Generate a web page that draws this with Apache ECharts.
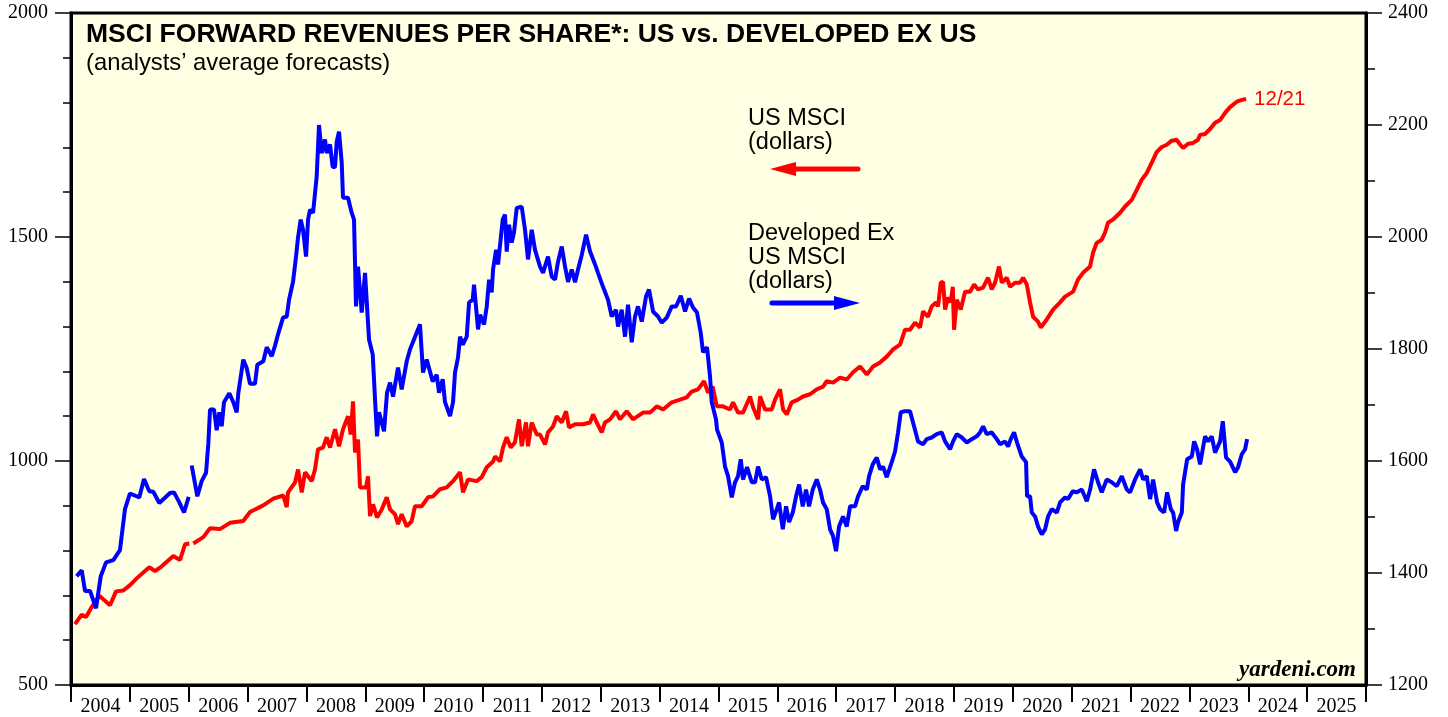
<!DOCTYPE html>
<html>
<head>
<meta charset="utf-8">
<title>MSCI Forward Revenues per Share</title>
<script src="https://cdn.jsdelivr.net/npm/echarts/dist/echarts.min.js"></script>
<style>
  html, body { margin: 0; padding: 0; background: #fff; }
  #chart { width: 1448px; height: 717px; }
</style>
</head>
<body>
<div id="chart"></div>
<script>
// year labels on the bottom axis
const years = ['2004', '2005', '2006', '2007', '2008', '2009', '2010', '2011', '2012', '2013', '2014',
  '2015', '2016', '2017', '2018', '2019', '2020', '2021', '2022', '2023', '2024', '2025'];

// US MSCI forward revenues per share, dollars (left axis) -- [decimal year, value]
const usRevenue = [
  [2004.068, 636], [2004.182, 657], [2004.255, 652], [2004.352, 674], [2004.481, 699], [2004.663, 678],
  [2004.765, 709], [2004.889, 711], [2005.002, 723], [2005.116, 738], [2005.330, 763], [2005.427, 754],
  [2005.541, 765], [2005.738, 788], [2005.852, 779], [2005.937, 814], [2006.010, 816], [2006.030, null],
  [2006.078, 816], [2006.107, 812], [2006.248, 830], [2006.362, 850], [2006.531, 848], [2006.701, 862],
  [2006.927, 866], [2007.041, 886], [2007.267, 901], [2007.437, 916], [2007.607, 923], [2007.665, 897],
  [2007.687, 930], [2007.806, 952], [2007.857, 981], [2007.920, 930], [2007.976, 975], [2008.089, 955],
  [2008.145, 981], [2008.196, 1026], [2008.281, 1030], [2008.344, 1053], [2008.400, 1030], [2008.485, 1071],
  [2008.553, 1033], [2008.621, 1071], [2008.706, 1100], [2008.752, 1059], [2008.791, 1133], [2008.825, 1019],
  [2008.876, 1048], [2008.910, 941], [2009.012, 941], [2009.046, 966], [2009.080, 877], [2009.131, 903],
  [2009.199, 874], [2009.279, 892], [2009.364, 919], [2009.420, 892], [2009.505, 881], [2009.556, 859],
  [2009.618, 881], [2009.703, 854], [2009.788, 866], [2009.844, 899], [2009.958, 899], [2010.065, 919],
  [2010.150, 921], [2010.269, 937], [2010.383, 941], [2010.490, 955], [2010.609, 975], [2010.660, 930],
  [2010.745, 959], [2010.893, 955], [2010.978, 964], [2011.063, 986], [2011.170, 999], [2011.204, 1010],
  [2011.289, 999], [2011.339, 1030], [2011.402, 1053], [2011.470, 1030], [2011.543, 1042], [2011.611, 1093],
  [2011.657, 1033], [2011.730, 1086], [2011.764, 1033], [2011.827, 1086], [2011.912, 1059], [2011.968, 1059],
  [2012.053, 1037], [2012.104, 1064], [2012.189, 1077], [2012.252, 1100], [2012.337, 1086], [2012.410, 1111],
  [2012.461, 1075], [2012.563, 1082], [2012.699, 1082], [2012.818, 1086], [2012.869, 1104], [2012.931, 1086],
  [2013.016, 1064], [2013.072, 1086], [2013.157, 1093], [2013.259, 1111], [2013.327, 1093], [2013.441, 1111],
  [2013.548, 1093], [2013.718, 1108], [2013.837, 1108], [2013.951, 1122], [2014.058, 1115], [2014.206, 1131],
  [2014.346, 1137], [2014.460, 1142], [2014.545, 1155], [2014.652, 1160], [2014.754, 1178], [2014.822, 1153],
  [2014.902, 1166], [2014.970, 1122], [2015.077, 1122], [2015.196, 1115], [2015.247, 1131], [2015.332, 1108],
  [2015.417, 1108], [2015.536, 1144], [2015.587, 1120], [2015.672, 1093], [2015.706, 1144], [2015.791, 1115],
  [2015.905, 1115], [2015.961, 1137], [2016.046, 1160], [2016.097, 1115], [2016.159, 1104], [2016.244, 1131],
  [2016.351, 1137], [2016.436, 1144], [2016.555, 1149], [2016.669, 1160], [2016.776, 1166], [2016.839, 1178],
  [2016.946, 1175], [2017.065, 1186], [2017.179, 1182], [2017.286, 1198], [2017.405, 1211], [2017.519, 1193],
  [2017.626, 1211], [2017.744, 1220], [2017.858, 1233], [2017.965, 1249], [2018.084, 1260], [2018.169, 1293],
  [2018.254, 1293], [2018.339, 1309], [2018.424, 1298], [2018.475, 1334], [2018.559, 1322], [2018.622, 1345],
  [2018.696, 1354], [2018.730, 1345], [2018.776, 1398], [2018.815, 1400], [2018.849, 1338], [2018.900, 1365],
  [2018.946, 1354], [2018.980, 1389], [2019.002, 1293], [2019.048, 1360], [2019.116, 1338], [2019.189, 1378],
  [2019.274, 1378], [2019.342, 1394], [2019.410, 1383], [2019.495, 1387], [2019.579, 1409], [2019.642, 1383],
  [2019.698, 1398], [2019.766, 1434], [2019.812, 1398], [2019.897, 1409], [2019.953, 1389], [2020.038, 1398],
  [2020.123, 1398], [2020.174, 1409], [2020.237, 1394], [2020.293, 1354], [2020.344, 1322], [2020.429, 1311],
  [2020.475, 1298], [2020.577, 1316], [2020.684, 1338], [2020.803, 1354], [2020.888, 1367], [2021.024, 1378],
  [2021.108, 1405], [2021.193, 1420], [2021.312, 1434], [2021.363, 1465], [2021.426, 1487], [2021.511, 1494],
  [2021.567, 1510], [2021.618, 1532], [2021.703, 1539], [2021.822, 1554], [2021.907, 1568], [2022.021, 1583],
  [2022.106, 1605], [2022.191, 1628], [2022.276, 1643], [2022.361, 1666], [2022.446, 1690], [2022.531, 1701],
  [2022.616, 1706], [2022.701, 1715], [2022.786, 1717], [2022.842, 1706], [2022.893, 1699], [2022.978, 1708],
  [2023.063, 1710], [2023.147, 1717], [2023.181, 1728], [2023.266, 1730], [2023.351, 1741], [2023.436, 1755],
  [2023.521, 1761], [2023.606, 1777], [2023.691, 1790], [2023.805, 1802], [2023.890, 1806], [2023.963, 1808]
];

// Developed ex US MSCI forward revenues per share, dollars (right axis)
const exUsRevenue = [
  [2004.097, 1394], [2004.182, 1405], [2004.238, 1368], [2004.323, 1368], [2004.425, 1337], [2004.505, 1394],
  [2004.595, 1419], [2004.719, 1423], [2004.832, 1441], [2004.917, 1514], [2005.002, 1542], [2005.160, 1535],
  [2005.240, 1568], [2005.330, 1546], [2005.398, 1545], [2005.500, 1525], [2005.682, 1543], [2005.750, 1544],
  [2005.840, 1526], [2005.920, 1508], [2006.000, 1536], [2006.030, null], [2006.051, 1592], [2006.078, 1576],
  [2006.146, 1537], [2006.220, 1564], [2006.294, 1579], [2006.333, 1631], [2006.362, 1692], [2006.430, 1692],
  [2006.475, 1655], [2006.520, 1687], [2006.560, 1662], [2006.599, 1705], [2006.690, 1721], [2006.757, 1705],
  [2006.815, 1687], [2006.842, 1721], [2006.927, 1781], [2006.985, 1766], [2007.041, 1738], [2007.126, 1738],
  [2007.165, 1772], [2007.267, 1778], [2007.325, 1803], [2007.410, 1787], [2007.466, 1806], [2007.522, 1828],
  [2007.602, 1856], [2007.665, 1858], [2007.704, 1888], [2007.772, 1920], [2007.823, 1965], [2007.857, 1999],
  [2007.902, 2031], [2007.942, 2013], [2007.993, 1965], [2008.027, 2031], [2008.061, 2049], [2008.112, 2043],
  [2008.174, 2108], [2008.213, 2200], [2008.259, 2150], [2008.315, 2174], [2008.344, 2150], [2008.400, 2165],
  [2008.446, 2125], [2008.485, 2125], [2008.514, 2170], [2008.553, 2188], [2008.599, 2133], [2008.621, 2070],
  [2008.706, 2070], [2008.769, 2043], [2008.808, 2031], [2008.842, 1876], [2008.876, 1947], [2008.939, 1865],
  [2008.995, 1936], [2009.029, 1876], [2009.063, 1817], [2009.126, 1790], [2009.165, 1710], [2009.199, 1644],
  [2009.233, 1687], [2009.318, 1653], [2009.369, 1722], [2009.420, 1740], [2009.471, 1715], [2009.556, 1767],
  [2009.618, 1728], [2009.703, 1778], [2009.759, 1799], [2009.827, 1817], [2009.929, 1844], [2009.980, 1758],
  [2010.043, 1781], [2010.145, 1742], [2010.213, 1754], [2010.252, 1722], [2010.315, 1746], [2010.354, 1705],
  [2010.439, 1680], [2010.490, 1705], [2010.524, 1758], [2010.575, 1785], [2010.609, 1822], [2010.655, 1808],
  [2010.723, 1822], [2010.762, 1883], [2010.825, 1888], [2010.847, 1915], [2010.915, 1835], [2010.949, 1861],
  [2011.017, 1844], [2011.063, 1876], [2011.102, 1924], [2011.147, 1901], [2011.170, 1942], [2011.221, 1977],
  [2011.255, 1951], [2011.334, 2031], [2011.373, 2040], [2011.402, 1974], [2011.441, 2022], [2011.487, 1990],
  [2011.526, 2008], [2011.572, 2052], [2011.657, 2054], [2011.713, 2013], [2011.764, 1960], [2011.827, 2013],
  [2011.883, 1977], [2011.968, 1947], [2012.019, 1936], [2012.104, 1965], [2012.167, 1929], [2012.223, 1924],
  [2012.274, 1956], [2012.337, 1983], [2012.393, 1947], [2012.444, 1920], [2012.507, 1942], [2012.563, 1919],
  [2012.614, 1942], [2012.677, 1968], [2012.750, 2004], [2012.818, 1974], [2012.903, 1951], [2012.953, 1936],
  [2013.038, 1911], [2013.123, 1888], [2013.186, 1858], [2013.259, 1870], [2013.293, 1840], [2013.356, 1870],
  [2013.412, 1822], [2013.463, 1879], [2013.526, 1812], [2013.582, 1858], [2013.633, 1876], [2013.696, 1849],
  [2013.769, 1894], [2013.820, 1906], [2013.888, 1867], [2013.973, 1858], [2014.036, 1847], [2014.121, 1856],
  [2014.206, 1876], [2014.279, 1876], [2014.359, 1895], [2014.432, 1867], [2014.500, 1890], [2014.567, 1874],
  [2014.635, 1865], [2014.698, 1829], [2014.737, 1794], [2014.805, 1803], [2014.856, 1751], [2014.885, 1705],
  [2014.958, 1674], [2014.975, 1656], [2015.055, 1633], [2015.111, 1590], [2015.162, 1573], [2015.225, 1535],
  [2015.281, 1562], [2015.332, 1573], [2015.378, 1603], [2015.417, 1567], [2015.485, 1589], [2015.565, 1562],
  [2015.621, 1562], [2015.672, 1590], [2015.735, 1567], [2015.808, 1571], [2015.876, 1537], [2015.927, 1496],
  [2015.990, 1514], [2016.029, 1526], [2016.092, 1478], [2016.148, 1519], [2016.199, 1491], [2016.262, 1508],
  [2016.318, 1537], [2016.369, 1558], [2016.431, 1519], [2016.487, 1549], [2016.538, 1519], [2016.601, 1549],
  [2016.669, 1567], [2016.725, 1549], [2016.776, 1526], [2016.839, 1514], [2016.895, 1478], [2016.946, 1466],
  [2016.997, 1439], [2017.048, 1483], [2017.116, 1501], [2017.179, 1483], [2017.235, 1519], [2017.320, 1519],
  [2017.371, 1537], [2017.451, 1555], [2017.519, 1549], [2017.558, 1573], [2017.620, 1594], [2017.689, 1606],
  [2017.745, 1585], [2017.796, 1590], [2017.858, 1571], [2017.943, 1598], [2017.999, 1617], [2018.050, 1651],
  [2018.096, 1687], [2018.169, 1689], [2018.254, 1689], [2018.322, 1662], [2018.390, 1635], [2018.475, 1630],
  [2018.538, 1639], [2018.623, 1642], [2018.708, 1648], [2018.793, 1651], [2018.849, 1635], [2018.934, 1621],
  [2018.985, 1635], [2019.048, 1648], [2019.133, 1642], [2019.218, 1633], [2019.302, 1639], [2019.387, 1644],
  [2019.443, 1651], [2019.495, 1662], [2019.557, 1648], [2019.642, 1651], [2019.727, 1639], [2019.783, 1630],
  [2019.868, 1635], [2019.919, 1626], [2019.965, 1639], [2020.021, 1651], [2020.072, 1633], [2020.152, 1608],
  [2020.225, 1598], [2020.242, 1537], [2020.293, 1537], [2020.322, 1508], [2020.378, 1501], [2020.429, 1483],
  [2020.492, 1469], [2020.548, 1478], [2020.599, 1501], [2020.662, 1514], [2020.747, 1508], [2020.803, 1526],
  [2020.888, 1535], [2020.938, 1532], [2021.018, 1546], [2021.087, 1544], [2021.172, 1549], [2021.257, 1528],
  [2021.313, 1549], [2021.380, 1585], [2021.448, 1562], [2021.511, 1544], [2021.596, 1567], [2021.681, 1562],
  [2021.766, 1555], [2021.851, 1573], [2021.936, 1549], [2021.992, 1544], [2022.077, 1567], [2022.162, 1585],
  [2022.213, 1567], [2022.275, 1573], [2022.332, 1532], [2022.383, 1567], [2022.451, 1526], [2022.502, 1514],
  [2022.570, 1508], [2022.621, 1544], [2022.684, 1514], [2022.723, 1508], [2022.774, 1475], [2022.808, 1491],
  [2022.871, 1508], [2022.893, 1558], [2022.961, 1603], [2023.041, 1608], [2023.080, 1635], [2023.130, 1621],
  [2023.181, 1594], [2023.266, 1644], [2023.317, 1635], [2023.380, 1644], [2023.436, 1615], [2023.521, 1635],
  [2023.567, 1671], [2023.623, 1606], [2023.691, 1599], [2023.776, 1580], [2023.827, 1589], [2023.890, 1612],
  [2023.946, 1621], [2023.980, 1639]
];

const SERIF = '"Liberation Serif", "Times New Roman", serif';
const SANS = '"Liberation Sans", Arial, sans-serif';
const RED = '#ff0000';
const BLUE = '#0000ff';

// null -> '-' so the line breaks at the gap
const toLine = pts => pts.map(p => [p[0], p[1] == null ? '-' : p[1]]);
const plain = v => String(v);

const chart = echarts.init(document.getElementById('chart'), null, { renderer: 'canvas' });

const option = {
  animation: false,
  backgroundColor: '#ffffff',
  title: {
    text: 'MSCI FORWARD REVENUES PER SHARE*: US vs. DEVELOPED EX US',
    subtext: '(analysts\u2019 average forecasts)',
    left: 86,
    top: 21.5,
    padding: 0,
    itemGap: 3,
    textStyle: { color: '#000', fontSize: 26.5, fontWeight: 'bold', fontFamily: SANS },
    subtextStyle: { color: '#000', fontSize: 23.8, fontFamily: SANS }
  },
  grid: {
    left: 71, right: 82, top: 13, bottom: 31,
    show: true,
    backgroundColor: '#ffffe4',
    borderColor: '#000',
    borderWidth: 3
  },
  xAxis: [
    {
      type: 'category',
      data: years,
      boundaryGap: true,
      position: 'bottom',
      axisLine: { lineStyle: { color: '#000', width: 3 } },
      axisTick: { show: true, interval: 0, length: 17, lineStyle: { color: '#000', width: 2 } },
      axisLabel: { interval: 0, color: '#000', fontSize: 20, fontFamily: SERIF, margin: 12 },
      splitLine: { show: false }
    },
    {
      type: 'value',
      min: 2004,
      max: 2026,
      show: false
    }
  ],
  yAxis: [
    {
      type: 'value',
      position: 'left',
      min: 500,
      max: 2000,
      interval: 500,
      axisLine: { show: true, lineStyle: { color: '#000', width: 3 } },
      axisTick: { show: true, length: 16, lineStyle: { color: '#000', width: 1.5 } },
      minorTick: { show: true, splitNumber: 5, length: 8, lineStyle: { color: '#000', width: 1.5 } },
      axisLabel: { color: '#000', fontSize: 20, fontFamily: SERIF, margin: 23, formatter: plain },
      splitLine: { show: false }
    },
    {
      type: 'value',
      position: 'right',
      min: 1200,
      max: 2400,
      interval: 200,
      axisLine: { show: true, lineStyle: { color: '#000', width: 3 } },
      axisTick: { show: true, length: 16, lineStyle: { color: '#000', width: 1.5 } },
      minorTick: { show: true, splitNumber: 2, length: 9, lineStyle: { color: '#000', width: 1.5 } },
      axisLabel: { color: '#000', fontSize: 20, fontFamily: SERIF, margin: 22, formatter: plain },
      splitLine: { show: false }
    }
  ],
  series: [
    {
      name: 'US MSCI',
      type: 'line',
      xAxisIndex: 1,
      yAxisIndex: 0,
      data: toLine(usRevenue),
      symbol: 'none',
      connectNulls: false,
      lineStyle: { color: RED, width: 4 },
      itemStyle: { color: RED },
      endLabel: {
        show: true,
        formatter: '12/21',
        color: RED,
        fontSize: 20.5,
        fontFamily: SANS,
        distance: 8
      }
    },
    {
      name: 'Developed Ex US MSCI',
      type: 'line',
      xAxisIndex: 1,
      yAxisIndex: 1,
      data: toLine(exUsRevenue),
      symbol: 'none',
      connectNulls: false,
      lineStyle: { color: BLUE, width: 4 },
      itemStyle: { color: BLUE }
    }
  ],
  graphic: [
    {
      type: 'text', left: 748, top: 107,
      style: { text: 'US MSCI\n(dollars)', fill: '#000', font: '23.5px ' + SANS, lineHeight: 24 }
    },
    {
      type: 'line',
      shape: { x1: 793, y1: 169, x2: 858, y2: 169 },
      style: { stroke: RED, lineWidth: 5, lineCap: 'round' }
    },
    {
      type: 'polygon',
      shape: { points: [[770, 169], [796, 162], [796, 176]] },
      style: { fill: RED }
    },
    {
      type: 'text', left: 748, top: 222,
      style: { text: 'Developed Ex\nUS MSCI\n(dollars)', fill: '#000', font: '23.5px ' + SANS, lineHeight: 24 }
    },
    {
      type: 'line',
      shape: { x1: 772, y1: 303, x2: 837, y2: 303 },
      style: { stroke: BLUE, lineWidth: 5, lineCap: 'round' }
    },
    {
      type: 'polygon',
      shape: { points: [[860, 303], [834, 296], [834, 310]] },
      style: { fill: BLUE }
    },
    {
      type: 'text', right: 92, top: 659,
      style: { text: 'yardeni.com', fill: '#000', font: 'italic bold 23px ' + SERIF, textAlign: 'right' }
    }
  ]
};

chart.setOption(option);
</script>
</body>
</html>
